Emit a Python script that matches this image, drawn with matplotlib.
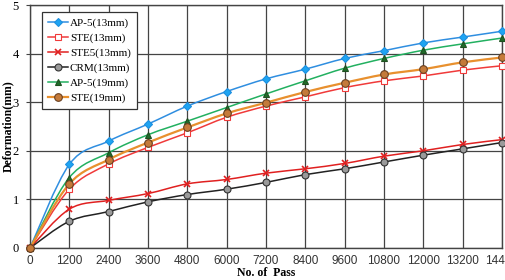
import numpy as np
import matplotlib
matplotlib.use("Agg")
import matplotlib.pyplot as plt
from matplotlib.path import Path
from matplotlib.patches import PathPatch
from matplotlib.lines import Line2D

passes = [0, 1200, 2400, 3600, 4800, 6000, 7200, 8400, 9600, 10800, 12000, 13200, 14400]
ap5_13 = [0, 1.72, 2.20, 2.55, 2.92, 3.22, 3.48, 3.68, 3.90, 4.06, 4.22, 4.34, 4.46]
ste_13 = [0, 1.21, 1.73, 2.07, 2.37, 2.69, 2.92, 3.11, 3.30, 3.44, 3.54, 3.66, 3.75]
ste5_13 = [0, 0.80, 0.98, 1.12, 1.32, 1.41, 1.54, 1.63, 1.74, 1.89, 2.00, 2.13, 2.23]
crm_13 = [0, 0.55, 0.75, 0.95, 1.10, 1.21, 1.35, 1.51, 1.63, 1.77, 1.91, 2.04, 2.17]
ap5_19 = [0, 1.45, 1.96, 2.33, 2.61, 2.89, 3.17, 3.44, 3.70, 3.90, 4.07, 4.20, 4.32]
ste_19 = [0, 1.32, 1.82, 2.17, 2.48, 2.77, 2.99, 3.21, 3.40, 3.57, 3.68, 3.82, 3.92]
series_names = ["AP-5(13mm)", "STE(13mm)", "STE5(13mm)", "CRM(13mm)", "AP-5(19mm)", "STE(19mm)"]
xtick_labels = ["0", "1200", "2400", "3600", "4800", "6000", "7200", "8400", "9600",
                "10800", "12000", "13200", "14400"]

styles = [
    dict(color="#2f8ee0", marker="D", mfc="#1ea4f2", mec="#1e90e0", ms=4.5, lw=1.1),
    dict(color="#f03a3a", marker="s", mfc="white", mec="#f03a3a", ms=5, lw=1.1),
    dict(color="#e02020", marker="x", mfc="#e02020", mec="#e02020", ms=5, lw=1.1, mew=1.2),
    dict(color="#222222", marker="o", mfc="#9a9a9a", mec="#333333", ms=5, lw=1.1),
    dict(color="#22b060", marker="^", mfc="#1f6b2a", mec="#1f4f20", ms=5, lw=1.1),
    dict(color="#e8902e", marker="o", mfc="#c47a3a", mec="#6a4020", ms=5.5, lw=1.6),
]
data = [ap5_13, ste_13, ste5_13, crm_13, ap5_19, ste_19]

fig = plt.figure(figsize=(5.06, 2.80), dpi=100)
ax = fig.add_axes([30/506, 1 - 248/280, 472/506, 243/280])
ax.set_xlim(0, 14400)
ax.set_ylim(0, 5)


def smooth_path(x, y):
    x = np.asarray(x, float)
    y = np.asarray(y, float)
    n = len(x)
    verts = [(x[0], y[0])]
    codes = [Path.MOVETO]
    for i in range(n - 1):
        p0 = np.array([x[max(i - 1, 0)], y[max(i - 1, 0)]])
        p1 = np.array([x[i], y[i]])
        p2 = np.array([x[i + 1], y[i + 1]])
        p3 = np.array([x[min(i + 2, n - 1)], y[min(i + 2, n - 1)]])
        c1 = p1 + (p2 - p0) / 6.0
        c2 = p2 - (p3 - p1) / 6.0
        verts += [tuple(c1), tuple(c2), tuple(p2)]
        codes += [Path.CURVE4] * 3
    return Path(verts, codes)


handles = []
for vals, st, name in zip(data, styles, series_names):
    patch = PathPatch(smooth_path(passes, vals), facecolor="none", edgecolor=st["color"],
                      lw=st["lw"], zorder=3)
    ax.add_patch(patch)
    ax.plot(passes, vals, ls="none", marker=st["marker"], mfc=st["mfc"], mec=st["mec"],
            ms=st["ms"], mew=st.get("mew", 0.8), zorder=4, clip_on=False)
    handles.append(Line2D([], [], color=st["color"], lw=st["lw"], marker=st["marker"],
                          mfc=st["mfc"], mec=st["mec"], ms=st["ms"], mew=st.get("mew", 0.8)))

ax.set_xticks(passes)
ax.set_xticklabels(xtick_labels, fontfamily="Liberation Sans", fontsize=8.5, color="#333333")
ax.set_yticks([0, 1, 2, 3, 4, 5])
ax.set_yticklabels(["0", "1", "2", "3", "4", "5"], fontfamily="Liberation Serif", fontsize=9)
ax.grid(True, color="#444444", lw=0.9)
ax.set_axisbelow(True)
ax.tick_params(axis="x", length=0, pad=5)
ax.tick_params(axis="y", length=3, direction="out", pad=5, color="#444444")
for s in ax.spines.values():
    s.set_color("#444444")
    s.set_linewidth(1.0)

ax.set_xlabel("No. of  Pass", fontfamily="Liberation Serif", fontweight="bold", fontsize=8.5,
              labelpad=0)
ax.set_ylabel("Deformation(mm)", fontfamily="Liberation Serif", fontweight="bold", fontsize=8.5,
              labelpad=0)
ax.yaxis.set_label_coords(-16/472, 0.5)

leg = ax.legend(handles, series_names, loc="upper left", bbox_to_anchor=(12/472, 1 - 7/243),
                prop={"family": "Liberation Serif", "size": 8}, frameon=True, fancybox=False,
                borderpad=0.55, labelspacing=0.45, handlelength=1.8, handletextpad=0.15,
                borderaxespad=0)
leg.get_frame().set_edgecolor("#333333")
leg.get_frame().set_linewidth(0.9)
leg.get_frame().set_alpha(1)

fig.savefig("out.png", dpi=100)
